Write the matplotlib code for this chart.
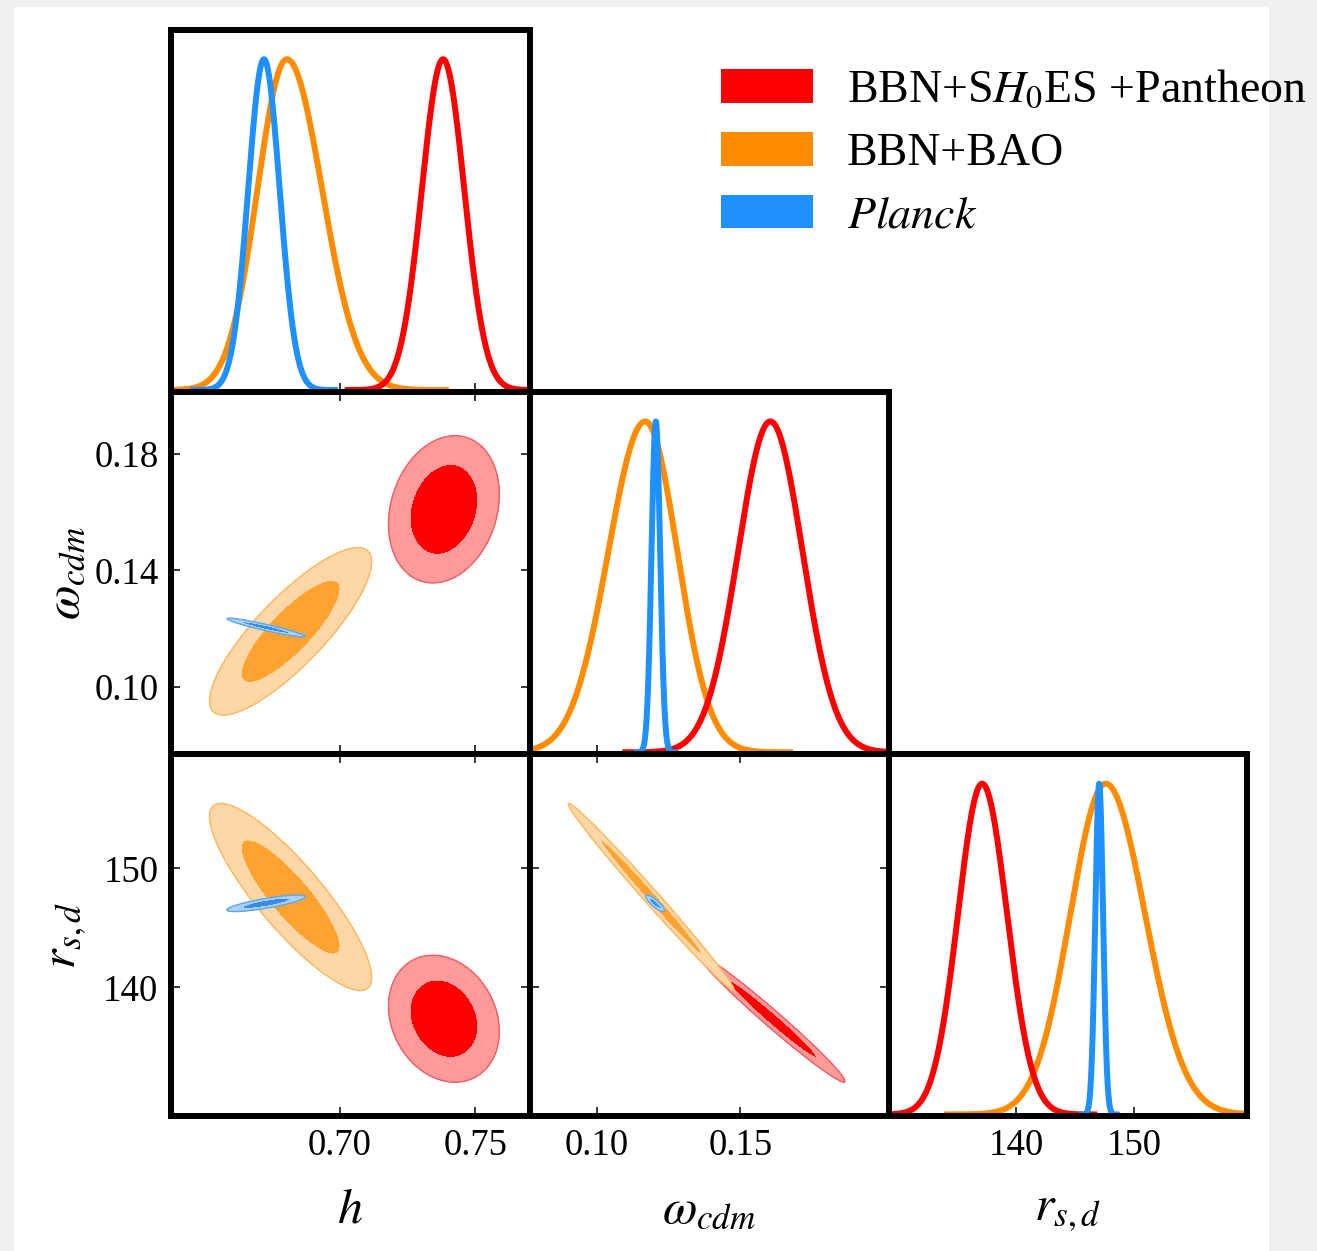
import matplotlib.pyplot as plt
import numpy as np
from matplotlib.patches import Patch, Rectangle

plt.rcParams['font.family'] = 'Liberation Serif'
plt.rcParams['mathtext.fontset'] = 'stix'

# parameters: h, omega_cdm, r_s,d
par_labels = [r'$h$', r'$\omega_{cdm}$', r'$r_{s,d}$']
par_limits = [(0.638, 0.770), (0.0768, 0.2015), (129.15, 159.65)]
x_ticks = [[0.70, 0.75], [0.10, 0.15], [140, 150]]
x_ticklabels = [['0.70', '0.75'], ['0.10', '0.15'], ['140', '150']]
y_ticks = [None, [0.10, 0.14, 0.18], [140, 150]]
y_ticklabels = [None, ['0.10', '0.14', '0.18'], ['140', '150']]

# datasets, legend order
names = [r'BBN+S$H_0$ES +Pantheon', 'BBN+BAO', r'$\mathit{Planck}$']
line_colors = ['#ff0000', '#ff8c00', '#1e90ff']
inner_colors = ['#ff0000', '#ffa22f', '#3a8ce6']
outer_colors = ['#ff9a9a', '#fdd8a6', '#a9d1f7']
edge_colors = ['#f05d64', '#ffb65c', '#5aa6ef']

# 1D marginals (peak, left width, right width) per dataset, per parameter
peak_1d = [[0.7381, 0.1604, 137.1], [0.6806, 0.1169, 147.6], [0.6722, 0.1206, 147.05]]
sig_lo_1d = [[0.0078, 0.0112, 2.05], [0.0108, 0.0128, 3.0], [0.0058, 0.0015, 0.33]]
sig_hi_1d = [[0.0078, 0.0112, 2.12], [0.0130, 0.0112, 3.35], [0.0058, 0.0015, 0.33]]

# 2D contours: centre, width and correlation per pair
mean_2d = [[0.7384, 0.161, 137.35], [0.682, 0.119, 147.6], [0.673, 0.1203, 147.07]]
sig_2d = [[0.0082, 0.0102, 2.15], [0.012, 0.0116, 3.17], [0.0058, 0.0013, 0.28]]
rho_h_w = [0.2, 0.83, -0.94]
rho_h_r = [-0.2, -0.86, 0.8]
rho_w_r = [-0.985, -0.993, -0.85]
rho_pairs = {(0, 1): rho_h_w, (0, 2): rho_h_r, (1, 2): rho_w_r}

CHI2_68, CHI2_95 = 2.30, 6.18

W, H = 1317, 1251
fig = plt.figure(figsize=(W / 100, H / 100), dpi=100, facecolor='#f0f0ee')
fig.patches.append(Rectangle((14 / W, 0), (1269 - 14) / W, 1 - 7 / H,
                             transform=fig.transFigure, facecolor='white',
                             edgecolor='none', zorder=-10))

x0, y0 = 171, 29.5
pw, ph = 358.8, 362.2


def panel(row, col):
    rect = [(x0 + col * pw) / W, 1 - (y0 + (row + 1) * ph) / H, pw / W, ph / H]
    ax = fig.add_axes(rect)
    for s in ax.spines.values():
        s.set_linewidth(4.3)
        s.set_zorder(5)
    return ax


for row in range(3):
    for col in range(row + 1):
        ax = panel(row, col)
        ax.set_xlim(par_limits[col])
        ax.set_xticks(x_ticks[col])
        if row == col:
            for k, z in zip([1, 0, 2], [2, 3, 4]):
                pk = peak_1d[k][col]
                lo, hi = sig_lo_1d[k][col], sig_hi_1d[k][col]
                x = np.linspace(pk - 4.5 * lo, pk + 4.5 * hi, 800)
                sg = np.where(x < pk, lo, hi)
                ax.plot(x, np.exp(-0.5 * ((x - pk) / sg) ** 2),
                        color=line_colors[k], lw=4.3, zorder=z)
            ax.set_ylim(-0.005, 1.09)
            ax.set_yticks([])
            ax.tick_params(axis='x', direction='in', length=6.5, width=1.1,
                           top=False, bottom=True)
        else:
            ax.set_ylim(par_limits[row])
            ax.set_yticks(y_ticks[row])
            xs = np.linspace(*par_limits[col], 700)
            ys = np.linspace(*par_limits[row], 700)
            X, Y = np.meshgrid(xs, ys)
            rho = rho_pairs[(col, row)]
            for k in range(3):
                dx = (X - mean_2d[k][col]) / sig_2d[k][col]
                dy = (Y - mean_2d[k][row]) / sig_2d[k][row]
                r = rho[k]
                chi2 = (dx ** 2 - 2 * r * dx * dy + dy ** 2) / (1 - r ** 2)
                ax.contourf(X, Y, chi2, levels=[-1, CHI2_68, CHI2_95],
                            colors=[inner_colors[k], outer_colors[k]], zorder=2 + k)
                ax.contour(X, Y, chi2, levels=[CHI2_95], colors=[edge_colors[k]],
                           linewidths=1.0, zorder=2 + k)
            ax.tick_params(direction='in', length=6.5, width=1.1,
                           top=True, bottom=True, left=True, right=True)
        ax.tick_params(labelsize=26.5, pad=9)
        if row == 2:
            ax.set_xticklabels(x_ticklabels[col])
            ax.set_xlabel(par_labels[col], fontsize=36, va='center')
            ax.xaxis.set_label_coords(0.5, -0.26)
        else:
            ax.tick_params(labelbottom=False)
        if col == 0 and row > 0:
            ax.set_yticklabels(y_ticklabels[row])
            ax.set_ylabel(par_labels[row], fontsize=36, va='center')
            ax.yaxis.set_label_coords(-0.293, 0.5)
        else:
            ax.tick_params(labelleft=False)

handles = [Patch(facecolor=c, edgecolor='none') for c in line_colors]
fig.legend(handles, names, loc='upper left', bbox_to_anchor=(721 / W, 1 - 69 / H),
           frameon=False, fontsize=33, borderpad=0, borderaxespad=0,
           handlelength=2.0, handleheight=0.75, handletextpad=0.75,
           labelspacing=0.44)

fig.savefig('out.png', dpi=100, facecolor=fig.get_facecolor())
